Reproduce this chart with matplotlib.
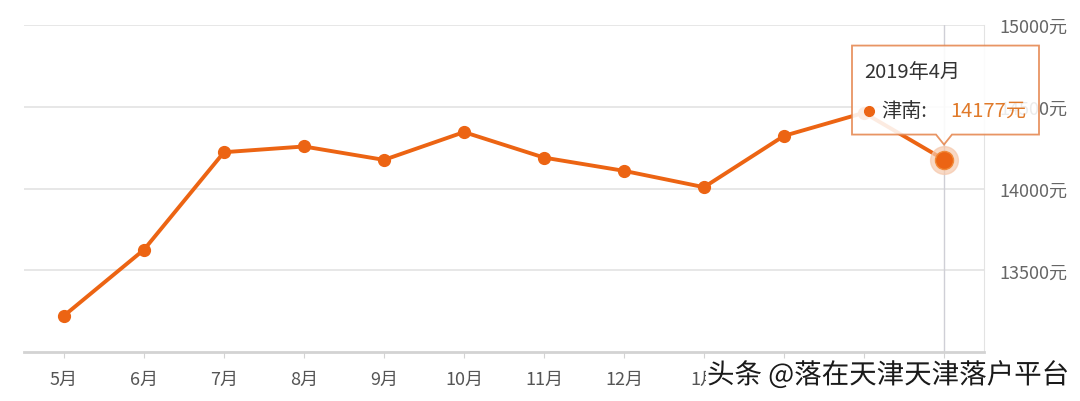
import numpy as np
import matplotlib
matplotlib.use("Agg")
import matplotlib.pyplot as plt
import matplotlib.transforms as mtransforms
import matplotlib.patheffects as pe
from matplotlib.patches import Polygon

plt.rcParams['font.family'] = ['Noto Sans CJK SC', 'DejaVu Sans']

# monthly average price, 津南
months = ['5月', '6月', '7月', '8月', '9月', '10月', '11月', '12月', '1月', '2月', '3月', '4月']
prices = [13222, 13626, 14222, 14257, 14175, 14345, 14189, 14108, 14008, 14322, 14463, 14177]
yticks = [13500, 14000, 14500, 15000]
ytick_labels = ['13500元', '14000元', '14500元', '15000元']
tip_title = '2019年4月'
tip_name = '津南:'

orange = '#ec6413'

fig = plt.figure(figsize=(10.8, 4.02), dpi=100)
ax = fig.add_axes([24 / 1080, 49 / 402, 960 / 1080, 327 / 402])

x = np.arange(len(months))
ax.plot(x, prices, color=orange, lw=2.8, marker='o', ms=8.5, zorder=3)

# highlighted last point + crosshair
ax.axvline(x[-1], color='#cfcfd6', lw=1, zorder=1)
ax.plot(x[-1], prices[-1], 'o', ms=20, color='#f6c9ad', alpha=0.7, zorder=4)
ax.plot(x[-1], prices[-1], 'o', ms=13, color=orange, mec='#f08a3a', mew=1, zorder=5)

ax.set_xlim(-0.5, len(months) - 0.5)
ax.set_ylim(13000, 15000)
ax.set_xticks(x)
ax.set_xticklabels(months)
ax.set_yticks(yticks)
ax.set_yticklabels(ytick_labels)
ax.yaxis.tick_right()
ax.grid(axis='y', color='#e3e3e3', lw=1.2)
ax.set_axisbelow(True)

for s in ['top', 'left']:
    ax.spines[s].set_visible(False)
ax.spines['right'].set_color('#e3e3e3')
ax.spines['bottom'].set_color('#d3d3d3')
ax.spines['bottom'].set_linewidth(2)

ax.tick_params(axis='x', length=4, color='#d3d3d3', pad=9, labelsize=13, labelcolor='#555555')
ax.tick_params(axis='y', length=0, pad=11, labelsize=13, labelcolor='#666666')

# tooltip, in pixel offsets from the last point
trans = mtransforms.ScaledTranslation(x[-1], prices[-1], ax.transData)
verts = [(-92, 25), (-8, 25), (0, 15), (8, 25), (95, 25), (95, 114), (-92, 114)]
ax.add_patch(Polygon(verts, closed=True, transform=trans, facecolor='white', alpha=0.88,
                     edgecolor='#e5864e', lw=1.3, zorder=6, clip_on=False))
ax.text(-80, 88, tip_title, transform=trans, fontsize=14.5, color='#333333',
        va='center', ha='left', zorder=7)
ax.plot([-75], [49], 'o', ms=7, color=orange, transform=trans, zorder=7, clip_on=False)
ax.text(-63, 49, tip_name, transform=trans, fontsize=14.5, color='#333333',
        va='center', ha='left', zorder=7)
ax.text(6, 49, f'{prices[-1]}元', transform=trans, fontsize=14.5, color='#e07a2a',
        va='center', ha='left', zorder=7)

# watermark (covers the last few month labels, as in the screenshot)
fig.text(707 / 1080, 1 - 376 / 402, '头条 @落在天津天津落户平台', fontsize=19.8, color='#1a1a1a',
         va='center', ha='left',
         bbox=dict(facecolor='white', edgecolor='none', pad=1),
         path_effects=[pe.withStroke(linewidth=2, foreground='white')])

fig.savefig('out.png', dpi=100)
